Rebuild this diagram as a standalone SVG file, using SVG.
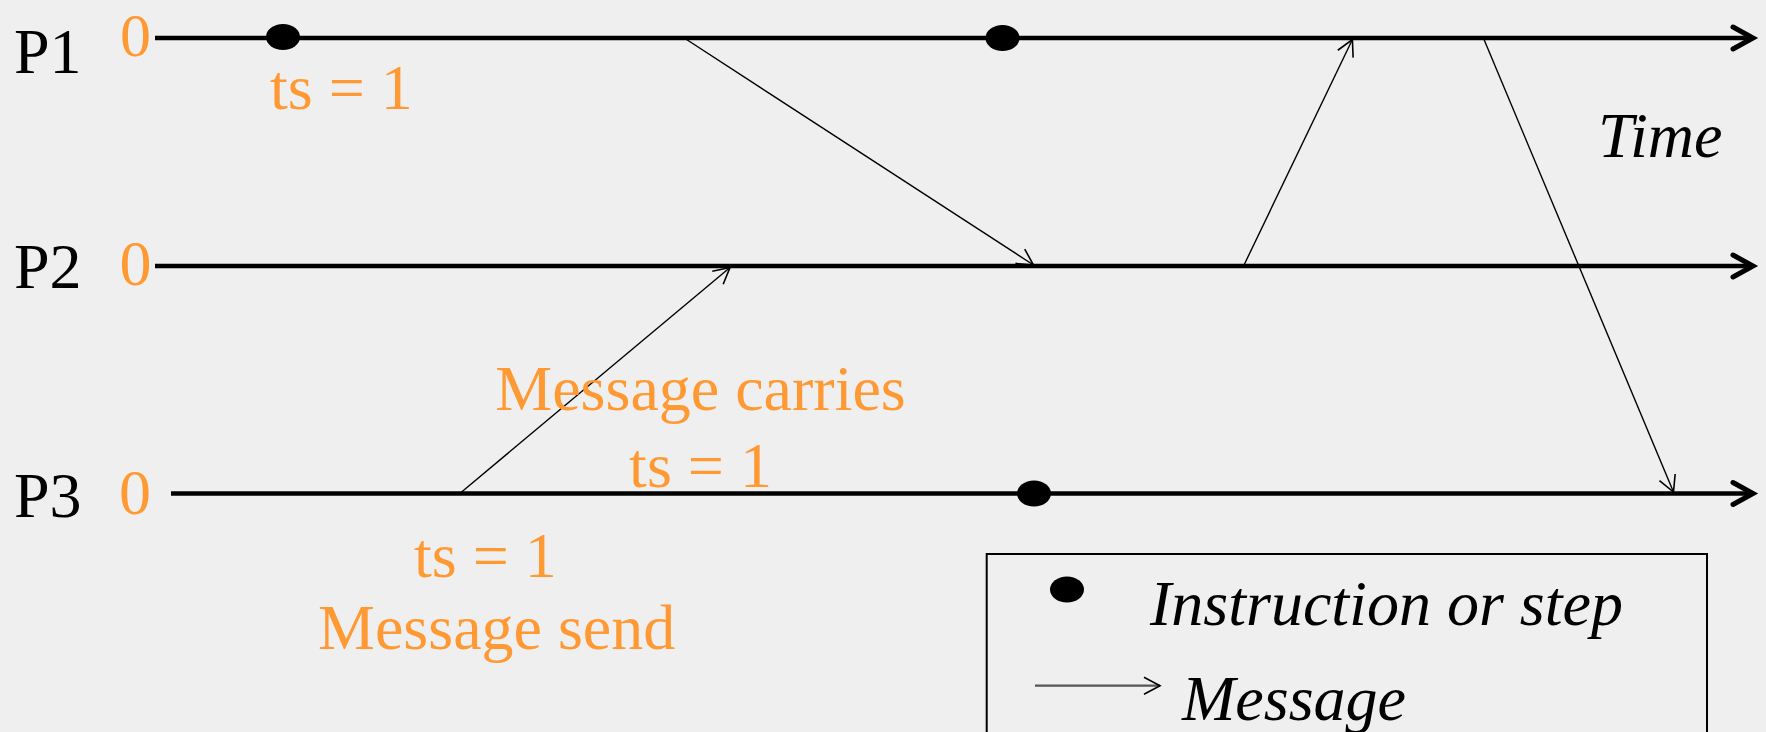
<svg xmlns="http://www.w3.org/2000/svg" width="1766" height="732" viewBox="0 0 1766 732">
  <style>
    .bg { fill: #EFEFEF; }
    .txt { font-family: "Liberation Serif", "Times New Roman", serif; font-size: 64px; }
    .lbl { fill: #000000; }
    .org { fill: #FF9933; }
    .it { font-style: italic; fill: #000000; }
    .tl { stroke: #000000; stroke-width: 4.5; fill: none; }
    .chev { stroke: #000000; stroke-width: 5; fill: none; stroke-linecap: round; stroke-linejoin: miter; }
    .msg { stroke: #000000; stroke-width: 1.4; fill: none; marker-end: url(#open); }
    .dot { fill: #000000; }
  </style>
  <defs>
    <marker id="open" markerUnits="userSpaceOnUse" markerWidth="40" markerHeight="40" refX="0" refY="0" viewBox="-20 -20 40 40" orient="auto" overflow="visible">
      <path d="M-16,-8.5 L0,0 L-16,8.5" fill="none" stroke="#000000" stroke-width="1.6"/>
    </marker>
  </defs>
  <rect class="bg" x="0" y="0" width="1766" height="732"/>

  <g id="process-P1">
    <text class="txt lbl" x="14" y="73">P1</text>
    <text class="txt org" x="120" y="55.5" style="font-size:62px">0</text>
    <line class="tl" x1="155" y1="38" x2="1750" y2="38"/>
    <path class="chev" d="M1733,27 L1753,38 L1733,49"/>
  </g>
  <g id="process-P2">
    <text class="txt lbl" x="14" y="288">P2</text>
    <text class="txt org" x="119.5" y="285">0</text>
    <line class="tl" x1="155" y1="266" x2="1750" y2="266"/>
    <path class="chev" d="M1733,255 L1753,266 L1733,277"/>
  </g>
  <g id="process-P3">
    <text class="txt lbl" x="14" y="517">P3</text>
    <text class="txt org" x="119" y="514">0</text>
    <line class="tl" x1="171" y1="493.5" x2="1750" y2="493.5"/>
    <path class="chev" d="M1733,482.5 L1753,493.5 L1733,504.5"/>
  </g>

  <g id="events">
    <ellipse class="dot" cx="283" cy="37" rx="17" ry="13"/>
    <ellipse class="dot" cx="1002.5" cy="38" rx="17" ry="13"/>
    <ellipse class="dot" cx="1034" cy="493.5" rx="17" ry="13"/>
  </g>

  <g id="connectors">
    <line class="msg" x1="685" y1="38.5" x2="1033.5" y2="265"/>
    <line class="msg" x1="1243.7" y1="265.7" x2="1352.4" y2="39.5"/>
    <line class="msg" x1="1483.6" y1="38.5" x2="1673.5" y2="492"/>
    <line class="msg" x1="461" y1="492.5" x2="730" y2="267.5"/>
  </g>

  <g id="annotations">
    <text class="txt org" x="270" y="109">ts = 1</text>
    <text class="txt org" x="700.5" y="410" text-anchor="middle">Message carries</text>
    <text class="txt org" x="700.5" y="487" text-anchor="middle">ts = 1</text>
    <text class="txt org" x="414" y="577">ts = 1</text>
    <text class="txt org" x="318" y="649">Message send</text>
    <text class="txt it" x="1598" y="157">Time</text>
  </g>

  <g id="legend">
    <rect x="986.7" y="554" width="720.3" height="200" fill="none" stroke="#000000" stroke-width="2"/>
    <ellipse class="dot" cx="1067" cy="589.5" rx="17" ry="13"/>
    <text class="txt it" x="1150" y="625">Instruction or step</text>
    <line x1="1035" y1="685.7" x2="1160" y2="685.7" stroke="#555555" stroke-width="2.2" marker-end="url(#open)"/>
    <text class="txt it" x="1182" y="720">Message</text>
  </g>
</svg>
